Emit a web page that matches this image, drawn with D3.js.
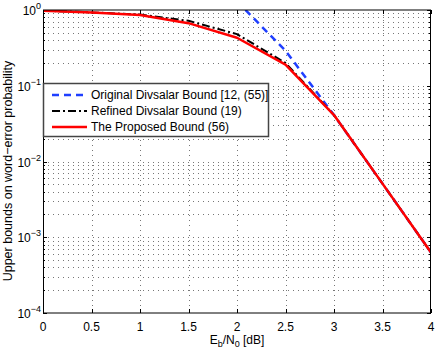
<!DOCTYPE html>
<html><head><meta charset="utf-8">
<script src="https://cdn.jsdelivr.net/npm/d3@7"></script>
<style>body{margin:0;background:#fff}svg{display:block;font-family:"Liberation Sans",Arial,sans-serif}</style>
</head><body><svg id="c" width="436" height="350"></svg>
<script>
const ebn0 = [0, 0.5, 1, 1.5, 2, 2.5, 3, 3.5, 4];
const originalDivsalar = [null, null, null, null, 1.30, 0.29, 0.041, 0.0051, 0.00063];
const refinedDivsalar = [0.98, 0.93, 0.87, 0.72, 0.48, 0.20, 0.041, 0.0051, 0.00063];
const proposedBound = [0.98, 0.93, 0.86, 0.67, 0.43, 0.19, 0.041, 0.0051, 0.00063];
const xTickValues = [0, 0.5, 1, 1.5, 2, 2.5, 3, 3.5, 4];
const yTickExponents = [-4, -3, -2, -1, 0];
const seriesNames = ["Original Divsalar Bound [12, (55)]", "Refined Divsalar Bound (19)", "The Proposed Bound (56)"];

const L = 43, R = 431, T = 10, B = 313;
const svg = d3.select("#c");
const x = d3.scaleLinear().domain([0, 4]).range([L, R]);
const y = d3.scaleLog().domain([1e-4, 1]).range([B, T]);

// grid
const g = svg.append("g");
const minor = [];
yTickExponents.slice(0, -1).forEach(e => { for (let k = 2; k <= 9; k++) minor.push(k * Math.pow(10, e)); });
const majors = yTickExponents.map(e => Math.pow(10, e));
g.selectAll("line.hm").data(minor.concat(majors.slice(1, -1))).join("line")
  .attr("x1", L).attr("x2", R).attr("y1", d => Math.round(y(d)) + 0.5).attr("y2", d => Math.round(y(d)) + 0.5)
  .attr("stroke", "#777").attr("stroke-width", 1).attr("stroke-dasharray", "1,4");
g.selectAll("line.v").data(xTickValues.slice(1, -1)).join("line")
  .attr("y1", T).attr("y2", B).attr("x1", d => Math.round(x(d)) + 0.5).attr("x2", d => Math.round(x(d)) + 0.5)
  .attr("stroke", "#777").attr("stroke-width", 1).attr("stroke-dasharray", "1,4");

// ticks
const tk = svg.append("g").attr("stroke", "#000").attr("stroke-width", 1);
xTickValues.forEach(v => {
  const px = Math.round(x(v)) + 0.5;
  tk.append("line").attr("x1", px).attr("x2", px).attr("y1", B).attr("y2", B - 4);
  tk.append("line").attr("x1", px).attr("x2", px).attr("y1", T).attr("y2", T + 4);
});
majors.forEach(v => {
  const py = Math.round(y(v)) + 0.5;
  tk.append("line").attr("x1", L).attr("x2", L + 4).attr("y1", py).attr("y2", py);
  tk.append("line").attr("x1", R).attr("x2", R - 4).attr("y1", py).attr("y2", py);
});
minor.forEach(v => {
  const py = Math.round(y(v)) + 0.5;
  tk.append("line").attr("x1", L).attr("x2", L + 2).attr("y1", py).attr("y2", py);
  tk.append("line").attr("x1", R).attr("x2", R - 2).attr("y1", py).attr("y2", py);
});

// clip
svg.append("clipPath").attr("id", "clip").append("rect").attr("x", L).attr("y", T).attr("width", R - L).attr("height", B - T);
const line = d3.line().defined(d => d[1] != null).x(d => x(d[0])).y(d => y(d[1]));
const lines = svg.append("g").attr("clip-path", "url(#clip)");
const series = [
  {vals: originalDivsalar, color: "#1f3fff", w: 2.5, dash: "7,5"},
  {vals: refinedDivsalar, color: "#000", w: 2, dash: "8,3,2,3"},
  {vals: proposedBound, color: "#ff0000", w: 2.5, dash: null}
];
series.forEach(s => {
  lines.append("path").attr("d", line(ebn0.map((e, i) => [e, s.vals[i]])))
    .attr("fill", "none").attr("stroke", s.color).attr("stroke-width", s.w)
    .attr("stroke-dasharray", s.dash).attr("stroke-linejoin", "round");
});

// axes box
svg.append("rect").attr("x", L + 0.5).attr("y", T).attr("width", R - L - 1).attr("height", B - T)
  .attr("fill", "none").attr("stroke", "#000").attr("stroke-width", 1);

// x tick labels
svg.append("g").selectAll("text").data(xTickValues).join("text")
  .attr("x", d => x(d)).attr("y", 331).attr("text-anchor", "middle")
  .attr("font-size", 12).attr("fill", "#000").text(d => d);

// y tick labels
yTickExponents.forEach(e => {
  const t = svg.append("text").attr("x", 41).attr("y", y(Math.pow(10, e)) + 5)
    .attr("text-anchor", "end").attr("font-size", 12).attr("fill", "#000");
  t.append("tspan").text("10");
  t.append("tspan").attr("dy", -6).attr("font-size", 9).text(e === 0 ? "0" : "\u2212" + Math.abs(e));
});

// axis titles
const xt = svg.append("text").attr("x", 237).attr("y", 344).attr("text-anchor", "middle").attr("font-size", 12);
xt.append("tspan").text("E");
xt.append("tspan").attr("dy", 3).attr("font-size", 9).text("b");
xt.append("tspan").attr("dy", -3).text("/N");
xt.append("tspan").attr("dy", 3).attr("font-size", 9).text("0");
xt.append("tspan").attr("dy", -3).text(" [dB]");

svg.append("text").attr("transform", "translate(11.5,171) rotate(-90)").attr("text-anchor", "middle")
  .attr("font-size", 12.5).text("Upper bounds on word\u2212error probability");

// legend
const lg = svg.append("g");
lg.append("rect").attr("x", 43.5).attr("y", 83.5).attr("width", 225).attr("height", 53)
  .attr("fill", "#fff").attr("stroke", "#444").attr("stroke-width", 1.5);
const rows = [95, 111, 127];
series.forEach((s, i) => {
  lg.append("line").attr("x1", 52).attr("x2", 87).attr("y1", rows[i]).attr("y2", rows[i])
    .attr("stroke", s.color).attr("stroke-width", s.w).attr("stroke-dasharray", s.dash);
  lg.append("text").attr("x", 91).attr("y", rows[i] + 4).attr("font-size", 12).text(seriesNames[i]);
});
</script></body></html>
